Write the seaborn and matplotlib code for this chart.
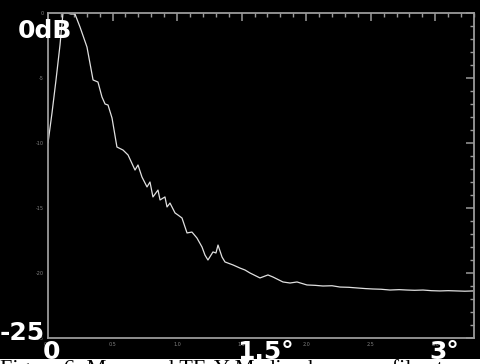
import numpy as np
import pandas as pd
import seaborn as sns
import matplotlib.pyplot as plt
from matplotlib.ticker import MultipleLocator, FormatStrFormatter

# beam profile (offset in degrees, level in dB)
offset_deg = [0.000, 0.031, 0.062, 0.093, 0.116, 0.147, 0.178, 0.209, 0.248, 0.302,
              0.349, 0.387, 0.418, 0.442, 0.465, 0.496, 0.534, 0.581, 0.620, 0.674,
              0.697, 0.728, 0.767, 0.790, 0.813, 0.852, 0.868, 0.906, 0.922, 0.945,
              0.984, 1.007, 1.038, 1.077, 1.115, 1.154, 1.193, 1.216, 1.239, 1.278,
              1.301, 1.317, 1.348, 1.371, 1.433, 1.487, 1.526, 1.565, 1.642, 1.704,
              1.743, 1.820, 1.875, 1.929, 2.006, 2.070, 2.130, 2.200, 2.262, 2.330,
              2.394, 2.460, 2.517, 2.580, 2.649, 2.720, 2.781, 2.840, 2.905, 2.970,
              3.036, 3.100, 3.168, 3.230, 3.292]
level_db = [-10.0, -7.69, -5.15, -2.46, 0.0, 0.0, -0.08, -0.08, -1.08, -2.62,
            -5.15, -5.31, -6.46, -7.0, -7.08, -8.08, -10.31, -10.54, -10.92, -12.08,
            -11.69, -12.62, -13.38, -13.0, -14.15, -13.62, -14.38, -14.15, -14.92, -14.62,
            -15.38, -15.54, -15.77, -16.92, -16.85, -17.31, -18.0, -18.62, -19.0, -18.38,
            -18.46, -17.85, -18.77, -19.15, -19.38, -19.62, -19.77, -20.0, -20.38, -20.15,
            -20.31, -20.69, -20.77, -20.69, -20.92, -20.95, -21.0, -20.98, -21.08, -21.1,
            -21.15, -21.2, -21.23, -21.25, -21.31, -21.28, -21.31, -21.33, -21.31, -21.36,
            -21.38, -21.36, -21.38, -21.4, -21.38]

df = pd.DataFrame({"offset": offset_deg, "level": level_db})

sns.set_style("dark", {"axes.facecolor": "black", "figure.facecolor": "black"})
plt.rcParams["font.family"] = ["DejaVu Sans"]

fig = plt.figure(figsize=(4.81, 3.64), dpi=100, facecolor="black")
ax = fig.add_axes([48 / 481, 1 - 338 / 364, 426 / 481, 325 / 364])
ax.set_facecolor("black")

sns.lineplot(data=df, x="offset", y="level", ax=ax, color="#e0e0e0",
             lw=0.9, sort=False)

ax.set_xlim(0, 3.3)
ax.set_ylim(-25, 0)
ax.set_xlabel("")
ax.set_ylabel("")
ax.grid(False)

ax.xaxis.set_major_locator(MultipleLocator(0.5))
ax.xaxis.set_minor_locator(MultipleLocator(0.1))
ax.yaxis.set_major_locator(MultipleLocator(5))
ax.yaxis.set_minor_locator(MultipleLocator(1))
ax.xaxis.set_major_formatter(FormatStrFormatter("%.1f"))
ax.yaxis.set_major_formatter(FormatStrFormatter("%d"))

for s in ax.spines.values():
    s.set_visible(True)
    s.set_color("#9a9a9a")
    s.set_linewidth(1.3)

ax.tick_params(which="both", direction="in", top=True, right=True,
               color="#9a9a9a", labelcolor="#808080", labelsize=3.5, pad=3)
ax.tick_params(which="major", length=6, width=1.1)
ax.tick_params(which="minor", length=3, width=1.0)

# big overlay labels
big = dict(color="white", fontsize=18, fontweight="bold", transform=fig.transFigure)
fig.text(18 / 481, 1 - 38 / 364, "0dB", **big)
fig.text(0 / 481, 1 - 340 / 364, "-25", **big)
fig.text(43 / 481, 1 - 359 / 364, "0", **big)
fig.text(237 / 481, 1 - 359 / 364, "1.5°", **big)
fig.text(429 / 481, 1 - 359 / 364, "3°", **big)

# caption strip cut off at the bottom
fig.patches.append(plt.Rectangle((0, 0), 1, 5 / 364, transform=fig.transFigure,
                                 facecolor="white", edgecolor="none", zorder=5))
fig.text(0, 1 - 359 / 364, "Figure 6: Measured TE-Y Median beam profile at",
         color="black", fontsize=16, family="Liberation Serif",
         va="top", zorder=6, transform=fig.transFigure)

fig.savefig("out.png", dpi=100, facecolor="black")
